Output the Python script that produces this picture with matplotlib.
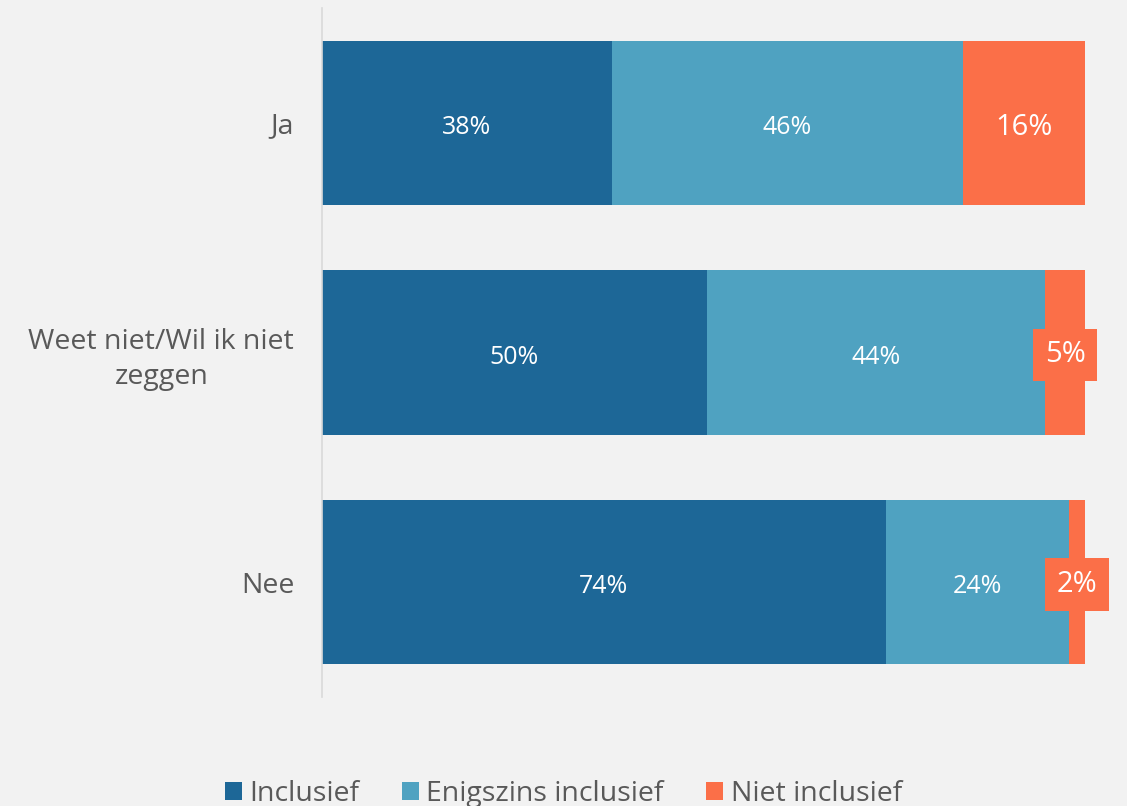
import numpy as np
import matplotlib.pyplot as plt

# categories (top to bottom) and shares per answer
categories = ['Ja', 'Weet niet/Wil ik niet\nzeggen', 'Nee']
series_names = ['Inclusief', 'Enigszins inclusief', 'Niet inclusief']
inclusief = [38.0, 50.4, 73.9]
enigszins = [46.0, 44.4, 24.0]
niet = [16.0, 5.2, 2.1]
labels = [['38%', '50%', '74%'],
          ['46%', '44%', '24%'],
          ['16%', '5%', '2%']]

colors = ['#1d6797', '#4fa2c1', '#fb6f48']
bg = '#f2f2f2'
textgray = '#595959'

plt.rcParams['font.family'] = ['Open Sans', 'DejaVu Sans']

fig = plt.figure(figsize=(11.27, 8.06), dpi=100, facecolor=bg)
ax = fig.add_axes([0.2857, 0.1352, 0.677, 0.8548])
ax.set_facecolor(bg)

y = np.arange(len(categories))
values = [inclusief, enigszins, niet]
label_sizes = [18, 18, 21]
left = np.zeros(len(categories))
bars = []
for k, vals in enumerate(values):
    b = ax.barh(y, vals, left=left, height=0.715, color=colors[k],
                label=series_names[k])
    bars.append(b)
    for i, v in enumerate(vals):
        cx = left[i] + v / 2
        if v < 8:
            ax.text(cx, y[i] + 0.01, labels[k][i], ha='center', va='center',
                    color='white', fontsize=label_sizes[k],
                    bbox=dict(boxstyle='square,pad=0.4', fc=colors[k], ec='none'))
        else:
            ax.text(cx, y[i] + 0.02, labels[k][i], ha='center', va='center',
                    color='white', fontsize=label_sizes[k])
    left += np.array(vals)

ax.set_xlim(0, 100)
ax.set_ylim(len(categories) - 0.5, -0.5)
ax.set_yticks(y)
ax.set_yticklabels(categories, fontsize=20.5, color=textgray, ha='right',
                   multialignment='center', linespacing=1.35)
ax.tick_params(axis='y', length=0, pad=20)
ax.set_xticks([])
for s in ['top', 'right', 'bottom']:
    ax.spines[s].set_visible(False)
ax.spines['left'].set_color('#d9d9d9')
ax.spines['left'].set_linewidth(1.2)

leg = fig.legend(handles=bars, labels=series_names, loc='lower center',
                 bbox_to_anchor=(0.5, -0.034), ncol=3, frameon=False,
                 fontsize=20.5, handlelength=0.6, handleheight=0.6,
                 handletextpad=0.25, columnspacing=1.5)
for t in leg.get_texts():
    t.set_color(textgray)

fig.savefig('out.png', dpi=100, facecolor=bg)
